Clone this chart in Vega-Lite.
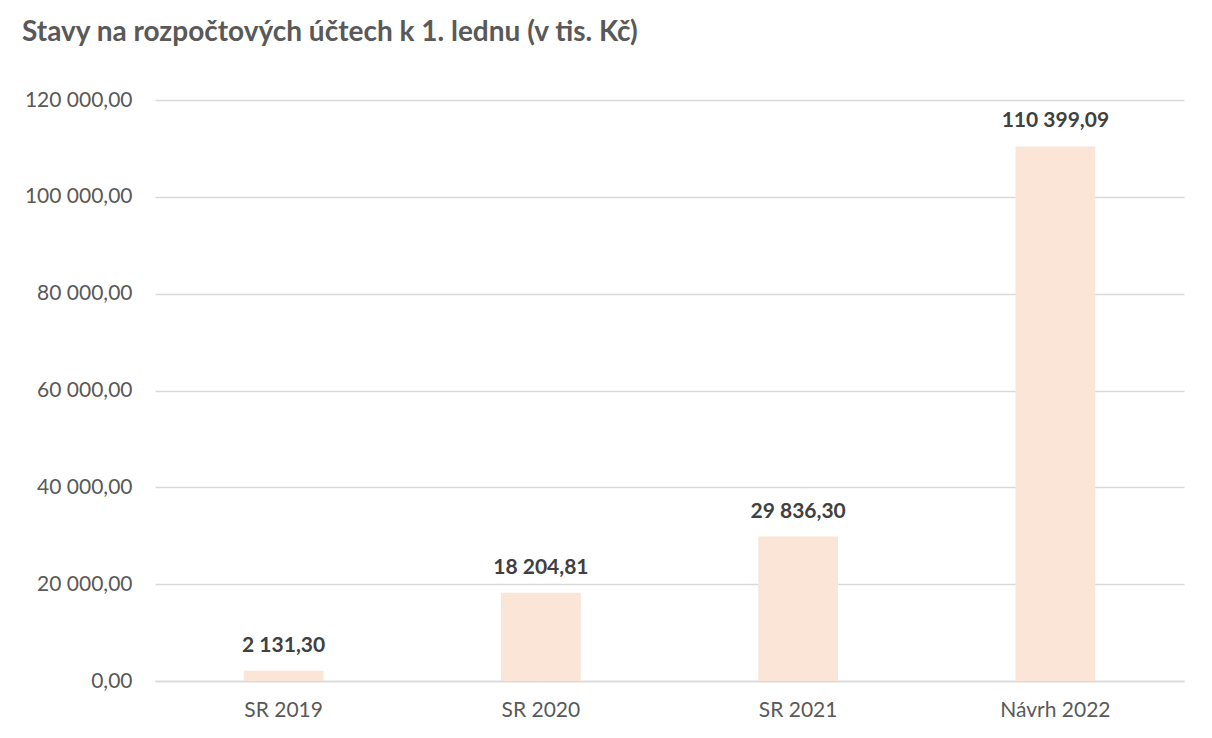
{
  "$schema": "https://vega.github.io/schema/vega-lite/v6.json",
  "autosize": "none",
  "width": 1029,
  "height": 581,
  "padding": {"left": 155, "top": 100, "right": 28, "bottom": 57},
  "background": "white",
  "config": {
    "locale": {"number": {"decimal": ",", "thousands": " ", "grouping": [3], "currency": ["", " Kč"]}},
    "view": {"stroke": null},
    "font": "Lato"
  },
  "title": {
    "text": "Stavy na rozpočtových účtech k 1. lednu (v tis. Kč)",
    "anchor": "start",
    "frame": "group",
    "dx": -133,
    "offset": 42,
    "font": "Lato",
    "fontSize": 28,
    "fontWeight": "bold",
    "color": "#595959"
  },
  "data": {
    "values": [
      {"kategorie": "SR 2019", "hodnota": 2131.30},
      {"kategorie": "SR 2020", "hodnota": 18204.81},
      {"kategorie": "SR 2021", "hodnota": 29836.30},
      {"kategorie": "Návrh 2022", "hodnota": 110399.09}
    ]
  },
  "encoding": {
    "x": {
      "field": "kategorie",
      "type": "nominal",
      "sort": null,
      "scale": {"paddingInner": 0.69, "paddingOuter": 0.345},
      "axis": {
        "title": null,
        "labelAngle": 0,
        "ticks": false,
        "domain": true,
        "domainColor": "#D9D9D9",
        "domainWidth": 1.3,
        "labelFont": "Lato",
        "labelFontSize": 21,
        "labelColor": "#595959",
        "labelPadding": 18
      }
    },
    "y": {
      "field": "hodnota",
      "type": "quantitative",
      "scale": {"domain": [0, 120000], "nice": false},
      "axis": {
        "title": null,
        "values": [0, 20000, 40000, 60000, 80000, 100000, 120000],
        "format": ",.2f",
        "ticks": false,
        "domain": false,
        "gridColor": "#D9D9D9",
        "gridWidth": 1.3,
        "labelFont": "Lato",
        "labelFontSize": 21,
        "labelColor": "#595959",
        "labelPadding": 23
      }
    }
  },
  "layer": [
    {"mark": {"type": "bar", "color": "#FBE5D6"}},
    {
      "mark": {"type": "text", "baseline": "alphabetic", "dy": -19, "font": "Lato", "fontSize": 21, "fontWeight": "bold", "color": "#404040"},
      "encoding": {"text": {"field": "hodnota", "type": "quantitative", "format": ",.2f"}}
    }
  ]
}
